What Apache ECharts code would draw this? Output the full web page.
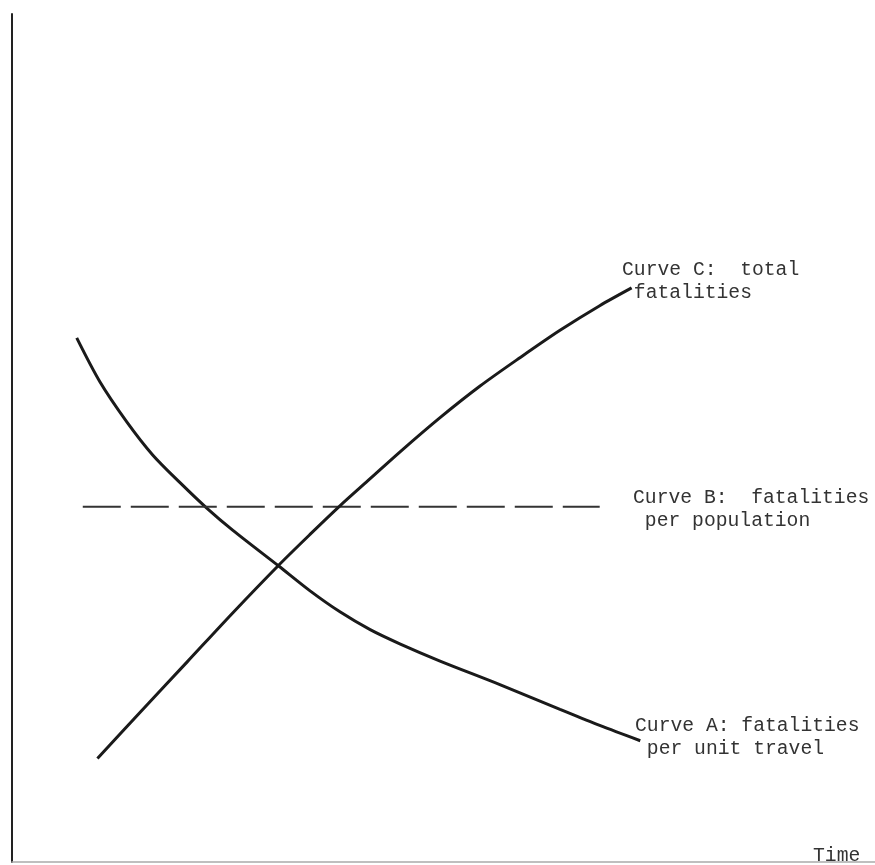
<!DOCTYPE html>
<html>
<head>
<meta charset="utf-8">
<script src="https://cdn.jsdelivr.net/npm/echarts@6/dist/echarts.min.js"></script>
<style>
  html, body { margin: 0; padding: 0; background: #fff; }
  #chart { width: 875px; height: 865px; }
</style>
</head>
<body>
<div id="chart"></div>
<script>
// Time runs 0..100 along x, fatality level 0..100 up y (arbitrary units).
const curveATime   = [7.5, 10.2, 13.3, 16.3, 19.5, 22.6, 25.6, 30.9, 34.5, 38.0, 41.5, 45.0, 49.6, 56.6, 63.5, 68.1, 72.8];
const curveAValues = [61.8, 56.6, 51.9, 48.0, 44.7, 41.7, 39.1, 34.9, 32.0, 29.5, 27.4, 25.7, 23.7, 20.9, 18.0, 16.1, 14.3];

const curveBTime   = [8.2, 68.1];
const curveBValues = [41.9, 41.9];

const curveCTime   = [9.9, 14.8, 20.3, 25.6, 30.9, 34.5, 38.0, 41.5, 45.0, 49.6, 54.2, 58.9, 63.5, 68.1, 71.8];
const curveCValues = [12.2, 17.6, 23.6, 29.4, 35.0, 38.6, 42.0, 45.2, 48.4, 52.4, 56.1, 59.5, 62.7, 65.6, 67.7];

const curveLabels = [
  { lines: ['Curve C:  total', ' fatalities'], x: 622, y: 270 },
  { lines: ['Curve B:  fatalities', ' per population'], x: 633, y: 498 },
  { lines: ['Curve A: fatalities', ' per unit travel'], x: 635, y: 726 }
];
const xAxisTitle = 'Time';

const zip = (xs, ys) => xs.map((x, i) => [x, ys[i]]);

const font = "'Courier New', 'Liberation Mono', monospace";
const textColor = '#333';

const graphics = [];
curveLabels.forEach(l => {
  l.lines.forEach((t, i) => {
    graphics.push({
      type: 'text', x: l.x, y: l.y + i * 23,
      style: { text: t, font: '19.7px ' + font, fill: textColor, verticalAlign: 'middle', align: 'left' }
    });
  });
});
graphics.push({
  type: 'text', x: 813, y: 856,
  style: { text: xAxisTitle, font: '19.7px ' + font, fill: textColor, verticalAlign: 'middle', align: 'left' }
});

const chart = echarts.init(document.getElementById('chart'), null, { renderer: 'canvas' });
chart.setOption({
  animation: false,
  backgroundColor: '#fff',
  grid: { left: 12, right: 0, top: 14, bottom: 3 },
  xAxis: {
    type: 'value', min: 0, max: 100,
    axisLine: { show: true, lineStyle: { color: '#aaa', width: 1.5 } },
    axisTick: { show: false }, axisLabel: { show: false }, splitLine: { show: false }
  },
  yAxis: {
    type: 'value', min: 0, max: 100,
    axisLine: { show: true, lineStyle: { color: '#222', width: 2 } },
    axisTick: { show: false }, axisLabel: { show: false }, splitLine: { show: false }
  },
  series: [
    {
      name: 'Curve A', type: 'line', data: zip(curveATime, curveAValues),
      smooth: 0.3, showSymbol: false,
      lineStyle: { color: '#1a1a1a', width: 3 }
    },
    {
      name: 'Curve B', type: 'line', data: zip(curveBTime, curveBValues),
      showSymbol: false,
      lineStyle: { color: '#333', width: 2, type: [38, 10] }
    },
    {
      name: 'Curve C', type: 'line', data: zip(curveCTime, curveCValues),
      smooth: 0.3, showSymbol: false,
      lineStyle: { color: '#1a1a1a', width: 3 }
    }
  ],
  graphic: graphics
});
</script>
</body>
</html>
